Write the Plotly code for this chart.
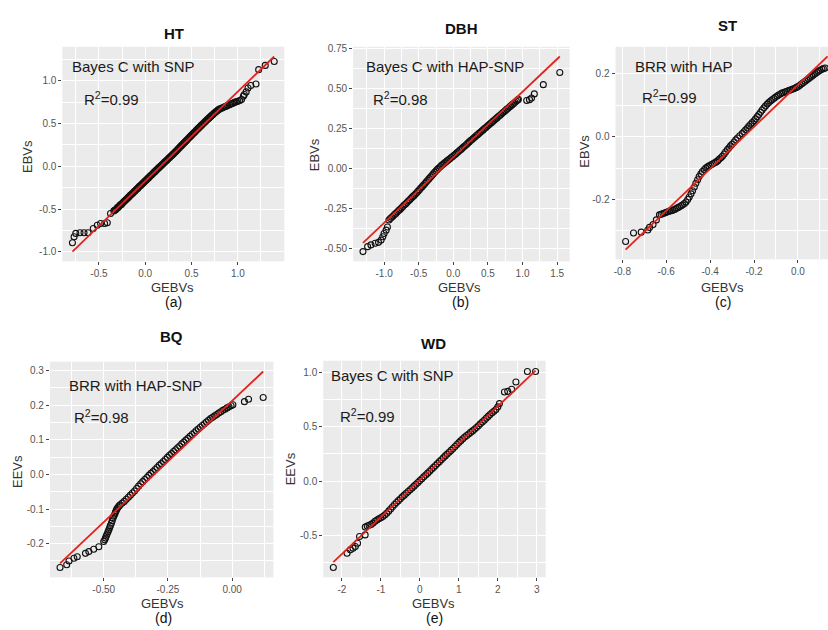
import plotly.graph_objects as go

# ---------------------------------------------------------------
# Data: GEBVs against EBVs/EEVs for five traits
# ---------------------------------------------------------------

# (a) HT - Bayes C with SNP
HT_GEBV = [-0.786, -0.768, -0.750, -0.704, -0.661, -0.618, -0.561, -0.518, -0.482, -0.439, -0.410, -0.375, -0.339,
           -0.33, -0.32, -0.31, -0.30, -0.29, -0.28, -0.27, -0.26, -0.25, -0.24, -0.23, -0.22, -0.21, -0.20,
           -0.19, -0.18, -0.17, -0.16, -0.15, -0.14, -0.13, -0.12, -0.11, -0.10, -0.09, -0.08, -0.07, -0.06,
           -0.05, -0.04, -0.03, -0.02, -0.01, 0.00, 0.01, 0.02, 0.03, 0.04, 0.05, 0.06, 0.07, 0.08, 0.09, 0.10,
           0.11, 0.12, 0.13, 0.14, 0.15, 0.16, 0.17, 0.18, 0.19, 0.20, 0.21, 0.22, 0.23, 0.24, 0.25, 0.26, 0.27,
           0.28, 0.29, 0.30, 0.31, 0.32, 0.33, 0.34, 0.35, 0.36, 0.37, 0.38, 0.39, 0.40, 0.41, 0.42, 0.43, 0.44,
           0.45, 0.46, 0.47, 0.48, 0.49, 0.50, 0.51, 0.52, 0.53, 0.54, 0.55, 0.56, 0.57, 0.58, 0.59, 0.60, 0.61,
           0.62, 0.63, 0.64, 0.65, 0.66, 0.67, 0.68, 0.69, 0.70, 0.71, 0.72, 0.73, 0.74, 0.75, 0.76, 0.77, 0.78,
           0.79, 0.80,
           0.815, 0.83, 0.845, 0.86, 0.875, 0.89, 0.91, 0.925, 0.94, 0.955, 0.97, 0.985, 1.00, 1.02, 1.04, 1.06,
           1.07, 1.09, 1.11, 1.14, 1.196, 1.225, 1.296, 1.393]
HT_EBV = [-0.894, -0.824, -0.785, -0.778, -0.778, -0.778, -0.727, -0.689, -0.669, -0.669, -0.660, -0.553, -0.522,
          -0.515, -0.508, -0.497, -0.484, -0.478, -0.466, -0.452, -0.449, -0.436, -0.424, -0.413, -0.404, -0.392,
          -0.383, -0.371, -0.361, -0.350, -0.337, -0.331, -0.318, -0.309, -0.296, -0.289, -0.275, -0.266, -0.256,
          -0.244, -0.232, -0.226, -0.214, -0.203, -0.192, -0.182, -0.172, -0.160, -0.151, -0.139, -0.131, -0.118,
          -0.108, -0.099, -0.088, -0.075, -0.066, -0.057, -0.045, -0.036, -0.024, -0.013, -0.004, 0.006, 0.018,
          0.027, 0.039, 0.050, 0.058, 0.068, 0.079, 0.091, 0.100, 0.110, 0.121, 0.131, 0.141, 0.152, 0.163, 0.173,
          0.184, 0.196, 0.208, 0.219, 0.230, 0.241, 0.252, 0.263, 0.274, 0.285, 0.297, 0.307, 0.318, 0.330, 0.341,
          0.352, 0.363, 0.374, 0.385, 0.396, 0.406, 0.418, 0.429, 0.440, 0.450, 0.461, 0.472, 0.483, 0.494, 0.504,
          0.515, 0.525, 0.536, 0.546, 0.556, 0.566, 0.577, 0.586, 0.596, 0.606, 0.616, 0.625, 0.634, 0.643, 0.652,
          0.660, 0.668,
          0.675, 0.682, 0.690, 0.696, 0.703, 0.710, 0.720, 0.728, 0.735, 0.742, 0.750, 0.755, 0.760, 0.770, 0.780,
          0.820, 0.840, 0.870, 0.915, 0.945, 0.963, 1.130, 1.180, 1.226]
HT_FIT_X = [-0.786, 1.393]
HT_FIT_Y = [-0.998, 1.284]

# (b) DBH - Bayes C with HAP-SNP
DBH_GEBV = [-1.305, -1.238, -1.19, -1.129, -1.081, -1.043, -1.019, -1.0, -0.971, -0.952,
            -0.93, -0.91, -0.89, -0.87, -0.85, -0.83, -0.81, -0.79, -0.77, -0.75, -0.73, -0.71, -0.69, -0.67,
            -0.65, -0.63, -0.61, -0.59, -0.57, -0.55, -0.53, -0.51, -0.49, -0.47, -0.45, -0.43, -0.41, -0.39,
            -0.37, -0.35, -0.33, -0.31, -0.29, -0.27, -0.25, -0.23, -0.21, -0.19, -0.17, -0.15, -0.13, -0.11,
            -0.09, -0.07, -0.05, -0.03, -0.01, 0.01, 0.03, 0.05, 0.07, 0.09, 0.11, 0.13, 0.15, 0.17, 0.19, 0.21,
            0.23, 0.25, 0.27, 0.29, 0.31, 0.33, 0.35, 0.37, 0.39, 0.41, 0.43, 0.45, 0.47, 0.49, 0.51, 0.53, 0.55,
            0.57, 0.59, 0.61, 0.63, 0.65, 0.67, 0.69, 0.71, 0.73, 0.75, 0.77, 0.79, 0.81, 0.83, 0.85, 0.87, 0.89,
            0.91, 0.93, 0.94,
            1.06, 1.10, 1.13, 1.17, 1.30, 1.538]
DBH_EBV = [-0.520, -0.489, -0.478, -0.468, -0.462, -0.448, -0.427, -0.407, -0.386, -0.366,
           -0.322, -0.313, -0.305, -0.297, -0.288, -0.281, -0.272, -0.263, -0.256, -0.247, -0.238, -0.229, -0.222,
           -0.213, -0.204, -0.196, -0.187, -0.178, -0.170, -0.161, -0.152, -0.142, -0.133, -0.123, -0.114, -0.104,
           -0.094, -0.084, -0.074, -0.064, -0.054, -0.044, -0.034, -0.024, -0.015, -0.006, 0.003, 0.011, 0.019,
           0.026, 0.033, 0.040, 0.047, 0.054, 0.061, 0.068, 0.075, 0.082, 0.089, 0.097, 0.104, 0.112, 0.119, 0.127,
           0.135, 0.142, 0.150, 0.158, 0.166, 0.174, 0.181, 0.189, 0.196, 0.204, 0.211, 0.219, 0.226, 0.234, 0.241,
           0.249, 0.256, 0.264, 0.271, 0.279, 0.286, 0.294, 0.301, 0.309, 0.316, 0.324, 0.331, 0.339, 0.346, 0.354,
           0.361, 0.369, 0.376, 0.384, 0.391, 0.399, 0.406, 0.414, 0.421, 0.428, 0.433,
           0.425, 0.430, 0.440, 0.466, 0.524, 0.600]
DBH_FIT_X = [-1.305, 1.538]
DBH_FIT_Y = [-0.465, 0.700]

# (c) ST - BRR with HAP
ST_GEBV = [-0.785, -0.749, -0.714, -0.684, -0.676, -0.66, -0.645,
           -0.631, -0.623, -0.615, -0.607, -0.600, -0.592, -0.585, -0.577, -0.570, -0.562, -0.555, -0.547, -0.540,
           -0.532, -0.525, -0.517, -0.510, -0.502, -0.495, -0.487, -0.480, -0.472, -0.465, -0.457, -0.450, -0.442,
           -0.435, -0.427, -0.420, -0.412, -0.405, -0.397, -0.390, -0.382, -0.374, -0.366, -0.359, -0.351, -0.344,
           -0.336, -0.329, -0.321, -0.314, -0.307, -0.300, -0.291, -0.283, -0.275, -0.265, -0.254, -0.246, -0.238,
           -0.230, -0.223, -0.215, -0.208, -0.200, -0.193, -0.185, -0.178, -0.170, -0.163, -0.155, -0.148, -0.140,
           -0.133, -0.125, -0.118, -0.110, -0.103, -0.095, -0.088, -0.080, -0.073, -0.065, -0.057, -0.050, -0.042,
           -0.035, -0.027, -0.020, -0.012, -0.005, 0.003, 0.010, 0.018, 0.025, 0.033, 0.040, 0.048, 0.055, 0.063,
           0.070, 0.078, 0.086, 0.094, 0.101, 0.109, 0.116, 0.124]
ST_EBV = [-0.334, -0.307, -0.304, -0.297, -0.289, -0.280, -0.265,
          -0.249, -0.247, -0.245, -0.243, -0.241, -0.239, -0.237, -0.236, -0.234, -0.232, -0.229, -0.226, -0.223,
          -0.220, -0.217, -0.213, -0.208, -0.200, -0.192, -0.182, -0.172, -0.160, -0.148, -0.137, -0.127, -0.118,
          -0.111, -0.105, -0.100, -0.096, -0.093, -0.090, -0.087, -0.084, -0.081, -0.077, -0.072, -0.067, -0.062,
          -0.055, -0.048, -0.041, -0.035, -0.029, -0.024, -0.017, -0.010, -0.004, 0.003, 0.010, 0.016, 0.022,
          0.028, 0.034, 0.040, 0.045, 0.051, 0.057, 0.064, 0.071, 0.078, 0.085, 0.092, 0.098, 0.104,
          0.109, 0.114, 0.118, 0.122, 0.126, 0.130, 0.133, 0.136, 0.139, 0.141, 0.143, 0.145, 0.147,
          0.149, 0.151, 0.153, 0.155, 0.158, 0.161, 0.165, 0.169, 0.173, 0.177, 0.181, 0.185, 0.189, 0.193,
          0.197, 0.201, 0.205, 0.209, 0.212, 0.215, 0.217, 0.219]
ST_FIT_X = [-0.785, 0.135]
ST_FIT_Y = [-0.360, 0.256]

# (d) BQ - BRR with HAP-SNP
BQ_GEBV = [-0.670, -0.644, -0.635, -0.616, -0.603, -0.571, -0.558, -0.539, -0.519,
           -0.500, -0.496, -0.493, -0.490, -0.487, -0.483, -0.480, -0.477, -0.474, -0.470, -0.467, -0.464, -0.461,
           -0.457, -0.454, -0.451, -0.448, -0.444, -0.440, -0.436, -0.428, -0.420, -0.412, -0.404, -0.396, -0.388,
           -0.380, -0.372, -0.364, -0.356, -0.348, -0.340, -0.332, -0.324, -0.316, -0.308, -0.300, -0.292, -0.284,
           -0.276, -0.268, -0.260, -0.252, -0.244, -0.236, -0.228, -0.220, -0.212, -0.204, -0.196, -0.188, -0.180,
           -0.172, -0.164, -0.156, -0.148, -0.140, -0.132, -0.124, -0.116, -0.108, -0.100, -0.092, -0.084, -0.076,
           -0.068, -0.060, -0.052, -0.044, -0.036, -0.028, -0.020, -0.012, -0.004, 0.003,
           0.048, 0.064, 0.121]
BQ_EEV = [-0.269, -0.261, -0.250, -0.242, -0.238, -0.228, -0.223, -0.216, -0.209,
          -0.194, -0.189, -0.184, -0.178, -0.172, -0.166, -0.160, -0.154, -0.148, -0.141, -0.134, -0.127, -0.121,
          -0.115, -0.109, -0.104, -0.099, -0.095, -0.091, -0.088, -0.083, -0.078, -0.072, -0.066, -0.060, -0.054,
          -0.048, -0.041, -0.034, -0.027, -0.021, -0.015, -0.009, -0.003, 0.003, 0.008, 0.014, 0.020, 0.026,
          0.031, 0.037, 0.043, 0.049, 0.055, 0.060, 0.066, 0.071, 0.077, 0.082, 0.088, 0.093, 0.099,
          0.104, 0.110, 0.115, 0.120, 0.126, 0.131, 0.136, 0.141, 0.146, 0.151, 0.156, 0.161, 0.165,
          0.169, 0.173, 0.177, 0.181, 0.185, 0.188, 0.192, 0.195, 0.198, 0.201,
          0.210, 0.217, 0.222]
BQ_FIT_X = [-0.670, 0.121]
BQ_FIT_Y = [-0.257, 0.297]

# (e) WD - Bayes C with SNP
WD_GEBV = [-2.218, -1.866, -1.782, -1.714, -1.655, -1.597, -1.546, -1.403,
           -1.40, -1.35, -1.30, -1.25, -1.20, -1.15, -1.10, -1.05, -1.00, -0.95, -0.90, -0.85, -0.80, -0.75,
           -0.70, -0.65, -0.60, -0.55, -0.50, -0.45, -0.40, -0.35, -0.30, -0.25, -0.20, -0.15, -0.10, -0.05,
           0.00, 0.05, 0.10, 0.15, 0.20, 0.25, 0.30, 0.35, 0.40, 0.45, 0.50, 0.55, 0.60, 0.65, 0.70, 0.75,
           0.80, 0.85, 0.90, 0.95, 1.00, 1.05, 1.10, 1.15, 1.20, 1.25, 1.30, 1.35, 1.40, 1.45, 1.50, 1.55,
           1.60, 1.65, 1.70, 1.75, 1.80, 1.85, 1.90, 1.95, 2.00, 2.04,
           2.168, 2.252, 2.353, 2.462, 2.756, 2.966]
WD_EEV = [-0.798, -0.666, -0.635, -0.620, -0.604, -0.574, -0.512, -0.497,
          -0.425, -0.415, -0.408, -0.400, -0.388, -0.372, -0.360, -0.349, -0.339, -0.327, -0.313, -0.297, -0.278,
          -0.258, -0.237, -0.217, -0.198, -0.181, -0.164, -0.146, -0.130, -0.113, -0.097, -0.080, -0.064, -0.047,
          -0.030, -0.013, 0.004, 0.021, 0.039, 0.056, 0.073, 0.091, 0.108, 0.126, 0.144, 0.161, 0.179, 0.196,
          0.214, 0.232, 0.249, 0.266, 0.283, 0.301, 0.319, 0.337, 0.355, 0.373, 0.390, 0.406, 0.421, 0.435,
          0.449, 0.463, 0.478, 0.494, 0.511, 0.528, 0.545, 0.562, 0.580, 0.597, 0.614, 0.630, 0.645, 0.660,
          0.685, 0.715,
          0.822, 0.828, 0.847, 0.914, 1.012, 1.012]
WD_FIT_X = [-2.218, 2.966]
WD_FIT_Y = [-0.748, 1.020]

# Axis ticks
HT_XTICKS = [-0.5, 0.0, 0.5, 1.0]
HT_XLABELS = ["-0.5", "0.0", "0.5", "1.0"]
HT_YTICKS = [-1.0, -0.5, 0.0, 0.5, 1.0]
HT_YLABELS = ["-1.0", "-0.5", "0.0", "0.5", "1.0"]

DBH_XTICKS = [-1.0, -0.5, 0.0, 0.5, 1.0, 1.5]
DBH_XLABELS = ["-1.0", "-0.5", "0.0", "0.5", "1.0", "1.5"]
DBH_YTICKS = [-0.5, -0.25, 0.0, 0.25, 0.5, 0.75]
DBH_YLABELS = ["-0.50", "-0.25", "0.00", "0.25", "0.50", "0.75"]

ST_XTICKS = [-0.8, -0.6, -0.4, -0.2, 0.0]
ST_XLABELS = ["-0.8", "-0.6", "-0.4", "-0.2", "0.0"]
ST_YTICKS = [-0.2, 0.0, 0.2]
ST_YLABELS = ["-0.2", "0.0", "0.2"]

BQ_XTICKS = [-0.5, -0.25, 0.0]
BQ_XLABELS = ["-0.50", "-0.25", "0.00"]
BQ_YTICKS = [-0.2, -0.1, 0.0, 0.1, 0.2, 0.3]
BQ_YLABELS = ["-0.2", "-0.1", "0.0", "0.1", "0.2", "0.3"]

WD_XTICKS = [-2, -1, 0, 1, 2, 3]
WD_XLABELS = ["-2", "-1", "0", "1", "2", "3"]
WD_YTICKS = [-0.5, 0.0, 0.5, 1.0]
WD_YLABELS = ["-0.5", "0.0", "0.5", "1.0"]

for xs, ys in [(HT_GEBV, HT_EBV), (DBH_GEBV, DBH_EBV), (ST_GEBV, ST_EBV),
               (BQ_GEBV, BQ_EEV), (WD_GEBV, WD_EEV)]:
    assert len(xs) == len(ys), (len(xs), len(ys))

# ---------------------------------------------------------------
# Layout helpers (pixel positions on an 828 x 630 page)
# ---------------------------------------------------------------
W, H = 828, 630
FONT = "Liberation Sans, Arial, sans-serif"


def fx(p):
    return p / W


def fy(p):
    return 1 - p / H


def expand(values, frac=0.05):
    lo, hi = min(values), max(values)
    pad = (hi - lo) * frac
    return [lo - pad, hi + pad]


def minor_vals(ticks):
    step = ticks[1] - ticks[0]
    return [t + step / 2 for t in [ticks[0] - step] + ticks]


panels = [
    dict(title="HT", tag="(a)", ylab="EBVs", method="Bayes C with SNP", r2="0.99",
         x=HT_GEBV, y=HT_EBV, fx_=HT_FIT_X, fy_=HT_FIT_Y,
         xt=HT_XTICKS, xl=HT_XLABELS, yt=HT_YTICKS, yl=HT_YLABELS,
         box=(60.5, 43, 283, 259), title_pos=(172, 30), ylab_pos=(25, 153),
         xlab_x=171, xlab_y=285, tag_y=300, m_pos=(68, 63), r_pos=(80, 95), xclip=None),
    dict(title="DBH", tag="(b)", ylab="EBVs", method="Bayes C with HAP-SNP", r2="0.98",
         x=DBH_GEBV, y=DBH_EBV, fx_=DBH_FIT_X, fy_=DBH_FIT_Y,
         xt=DBH_XTICKS, xl=DBH_XLABELS, yt=DBH_YTICKS, yl=DBH_YLABELS,
         box=(352, 43, 569, 259), title_pos=(461, 25), ylab_pos=(313, 152),
         xlab_x=459, xlab_y=285, tag_y=300, m_pos=(363, 63), r_pos=(370, 95), xclip=None),
    dict(title="ST", tag="(c)", ylab="EBVs", method="BRR with HAP", r2="0.99",
         x=ST_GEBV, y=ST_EBV, fx_=ST_FIT_X, fy_=ST_FIT_Y,
         xt=ST_XTICKS, xl=ST_XLABELS, yt=ST_YTICKS, yl=ST_YLABELS,
         box=(615, 43, 828, 257), title_pos=(727, 22), ylab_pos=(583, 148),
         xlab_x=722, xlab_y=285, tag_y=300, m_pos=(633, 63), r_pos=(640, 93), xclip=0.137),
    dict(title="BQ", tag="(d)", ylab="EEVs", method="BRR with HAP-SNP", r2="0.98",
         x=BQ_GEBV, y=BQ_EEV, fx_=BQ_FIT_X, fy_=BQ_FIT_Y,
         xt=BQ_XTICKS, xl=BQ_XLABELS, yt=BQ_YTICKS, yl=BQ_YLABELS,
         box=(48, 360, 272, 577), title_pos=(170, 335), ylab_pos=(15, 470),
         xlab_x=161, xlab_y=603, tag_y=618, m_pos=(65, 384), r_pos=(70, 415), xclip=None),
    dict(title="WD", tag="(e)", ylab="EEVs", method="Bayes C with SNP", r2="0.99",
         x=WD_GEBV, y=WD_EEV, fx_=WD_FIT_X, fy_=WD_FIT_Y,
         xt=WD_XTICKS, xl=WD_XLABELS, yt=WD_YTICKS, yl=WD_YLABELS,
         box=(322, 359, 545, 577), title_pos=(433, 342), ylab_pos=(289, 468),
         xlab_x=433, xlab_y=603, tag_y=618, m_pos=(328, 374), r_pos=(337, 414), xclip=None),
]

fig = go.Figure()
annotations = []
layout_axes = {}

for i, p in enumerate(panels, start=1):
    xa = "x" if i == 1 else f"x{i}"
    ya = "y" if i == 1 else f"y{i}"

    fig.add_trace(go.Scatter(
        x=p["x"], y=p["y"], mode="markers", xaxis=xa, yaxis=ya,
        marker=dict(symbol="circle-open", size=6, color="#111111",
                    line=dict(width=1.1, color="#111111")),
        showlegend=False, hoverinfo="skip"))
    fig.add_trace(go.Scatter(
        x=p["fx_"], y=p["fy_"], mode="lines", xaxis=xa, yaxis=ya,
        line=dict(color="#E3221C", width=1.8),
        showlegend=False, hoverinfo="skip"))

    x0, y0, x1, y1 = p["box"]
    xr = expand(p["x"] + p["fx_"])
    if p["xclip"] is not None:
        xr[1] = p["xclip"]
    yr = expand(p["y"] + p["fy_"])

    common = dict(
        showgrid=True, gridcolor="white", gridwidth=1.2,
        zeroline=False, showline=False,
        ticks="outside", ticklen=3, tickwidth=1, tickcolor="#444444",
        tickfont=dict(family=FONT, size=10, color="#555555"),
    )
    minor = dict(showgrid=True, gridcolor="white", gridwidth=0.55, ticks="")
    xkey = "xaxis" if i == 1 else f"xaxis{i}"
    ykey = "yaxis" if i == 1 else f"yaxis{i}"
    layout_axes[xkey] = dict(
        common, domain=[fx(x0), fx(x1)], range=xr, anchor=ya,
        tickmode="array", tickvals=p["xt"], ticktext=p["xl"],
        minor=dict(minor, tickvals=minor_vals(p["xt"])))
    layout_axes[ykey] = dict(
        common, domain=[fy(y1), fy(y0)], range=yr, anchor=xa,
        tickmode="array", tickvals=p["yt"], ticktext=p["yl"],
        minor=dict(minor, tickvals=minor_vals(p["yt"])))

    # panel title
    annotations.append(dict(
        text=f"<b>{p['title']}</b>", x=fx(p["title_pos"][0]), y=fy(p["title_pos"][1]),
        xref="paper", yref="paper", xanchor="center", yanchor="middle", showarrow=False,
        font=dict(family=FONT, size=15, color="#111111")))
    # x-axis title
    annotations.append(dict(
        text="GEBVs", x=fx(p["xlab_x"]), y=fy(p["xlab_y"]),
        xref="paper", yref="paper", xanchor="center", yanchor="middle", showarrow=False,
        font=dict(family=FONT, size=13, color="#333333")))
    # panel tag
    annotations.append(dict(
        text=p["tag"], x=fx(p["xlab_x"] + 1), y=fy(p["tag_y"]),
        xref="paper", yref="paper", xanchor="center", yanchor="middle", showarrow=False,
        font=dict(family=FONT, size=14, color="#111111")))
    # y-axis title
    annotations.append(dict(
        text=p["ylab"], x=fx(p["ylab_pos"][0]), y=fy(p["ylab_pos"][1]), textangle=-90,
        xref="paper", yref="paper", xanchor="center", yanchor="middle", showarrow=False,
        font=dict(family=FONT, size=13, color="#333333")))
    # method and R^2 labels
    annotations.append(dict(
        text=p["method"], x=fx(p["m_pos"][0]), y=fy(p["m_pos"][1]),
        xref="paper", yref="paper", xanchor="left", yanchor="middle", showarrow=False,
        font=dict(family=FONT, size=15, color="#1a1a1a")))
    annotations.append(dict(
        text="R<sup>2</sup>=" + p["r2"], x=fx(p["r_pos"][0]), y=fy(p["r_pos"][1]),
        xref="paper", yref="paper", xanchor="left", yanchor="middle", showarrow=False,
        font=dict(family=FONT, size=15, color="#1a1a1a")))

fig.update_layout(
    width=W, height=H,
    margin=dict(l=0, r=0, t=0, b=0),
    paper_bgcolor="white",
    plot_bgcolor="#EBEBEB",
    annotations=annotations,
    **layout_axes,
)

fig.write_html("out.html", include_plotlyjs=True, config={"displayModeBar": False})
